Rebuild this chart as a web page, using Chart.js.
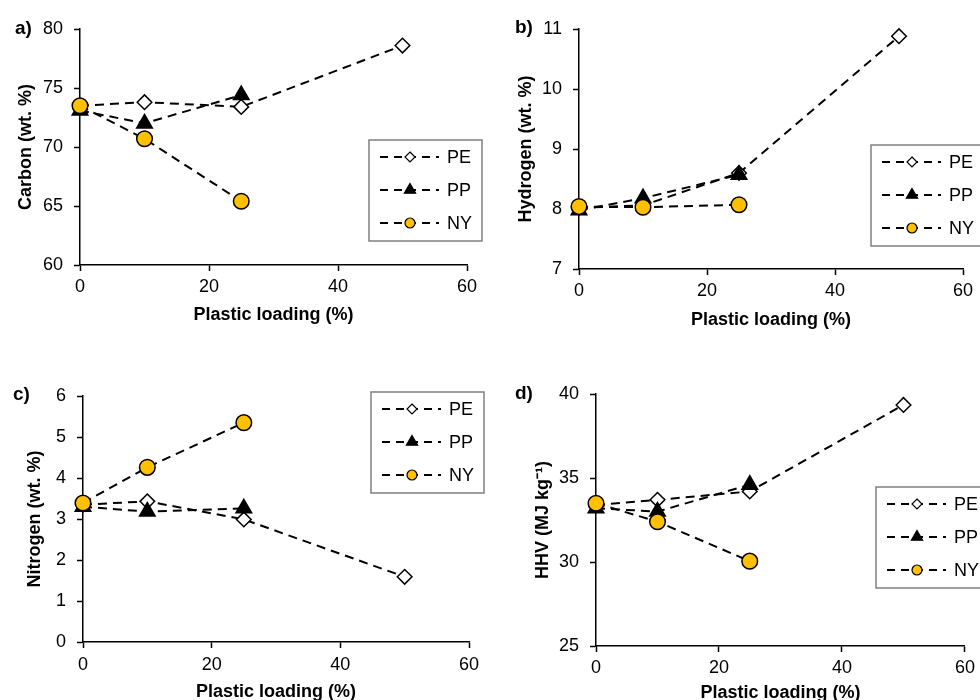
<!DOCTYPE html>
<html>
<head>
<meta charset="utf-8">
<script src="https://cdn.jsdelivr.net/npm/chart.js@4.4.1/dist/chart.umd.min.js"></script>
<style>
  body { margin: 0; background: #fff; width: 980px; height: 700px; overflow: hidden; position: relative;
         font-family: "Liberation Sans", Arial, sans-serif; }
  canvas { position: absolute; }
  .tag { position: absolute; font-weight: bold; font-size: 19px; line-height: 19px; color: #000; }
</style>
</head>
<body>
<canvas id="panelA" width="490" height="350" style="left:0;top:0"></canvas>
<canvas id="panelB" width="490" height="350" style="left:490px;top:0"></canvas>
<canvas id="panelC" width="490" height="350" style="left:0;top:350px"></canvas>
<canvas id="panelD" width="490" height="350" style="left:490px;top:350px"></canvas>
<div class="tag" style="left:15px;top:18px">a)</div>
<div class="tag" style="left:515px;top:17px">b)</div>
<div class="tag" style="left:13px;top:384px">c)</div>
<div class="tag" style="left:515px;top:383px">d)</div>
<script>
// plastic loading (%) for each blend
const loadingPE = [0, 10, 25, 50];
const loadingPP = [0, 10, 25];
const loadingNY = [0, 10, 25];

// a) carbon (wt. %)
const carbonPE = [73.5, 73.8, 73.4, 78.6];
const carbonPP = [73.1, 72.0, 74.4];
const carbonNY = [73.5, 70.7, 65.4];

// b) hydrogen (wt. %)
const hydrogenPE = [8.02, 8.06, 8.6, 10.88];
const hydrogenPP = [7.98, 8.18, 8.57];
const hydrogenNY = [8.04, 8.03, 8.07];

// c) nitrogen (wt. %)
const nitrogenPE = [3.35, 3.43, 2.99, 1.59];
const nitrogenPP = [3.3, 3.18, 3.26];
const nitrogenNY = [3.39, 4.26, 5.35];

// d) HHV (MJ/kg)
const hhvPE = [33.4, 33.7, 34.2, 39.35];
const hhvPP = [33.2, 33.0, 34.6];
const hhvNY = [33.5, 32.4, 30.05];

const seriesNames = ['PE', 'PP', 'NY'];
const xTicks = [0, 20, 40, 60];

Chart.defaults.font.family = '"Liberation Sans", Arial, sans-serif';
Chart.defaults.font.size = 18;
Chart.defaults.color = '#000';

const styles = {
  PE: { pointStyle: 'rectRot', r: 7.3, fill: '#fff', lr: 5 },
  PP: { pointStyle: 'triangle', r: 9, fill: '#000', lr: 6.5 },
  NY: { pointStyle: 'circle', r: 7.8, fill: '#FFC000', lr: 5 }
};

function pts(xs, ys) {
  return xs.map((x, i) => ({ x: x, y: ys[i] }));
}

function marker(ctx, style, x, y, r) {
  ctx.beginPath();
  if (style === 'circle') {
    ctx.arc(x, y, r, 0, Math.PI * 2);
  } else if (style === 'rectRot') {
    ctx.moveTo(x, y - r); ctx.lineTo(x + r, y); ctx.lineTo(x, y + r); ctx.lineTo(x - r, y);
  } else {
    const h = r * Math.sqrt(3) / 2;
    ctx.moveTo(x, y - r); ctx.lineTo(x + h, y + r / 2); ctx.lineTo(x - h, y + r / 2);
  }
  ctx.closePath();
  ctx.fill();
  ctx.stroke();
}

// legend box drawn inside the canvas at a fixed spot
const boxLegend = {
  id: 'boxLegend',
  afterDraw(chart, args, opts) {
    const ctx = chart.ctx;
    const bx = opts.x, by = opts.y;
    ctx.save();
    ctx.fillStyle = '#fff';
    ctx.strokeStyle = '#808080';
    ctx.lineWidth = 1.5;
    ctx.fillRect(bx, by, 113, 101);
    ctx.strokeRect(bx, by, 113, 101);
    const rows = [17, 50, 83];
    seriesNames.forEach((name, i) => {
      const y = by + rows[i];
      const st = styles[name];
      ctx.strokeStyle = '#000';
      ctx.lineWidth = 2;
      ctx.setLineDash([8, 6]);
      ctx.beginPath();
      ctx.moveTo(bx + 11, y);
      ctx.lineTo(bx + 70, y);
      ctx.stroke();
      ctx.setLineDash([]);
      ctx.lineWidth = 1.2;
      ctx.fillStyle = st.fill;
      marker(ctx, st.pointStyle, bx + 41, y, st.lr);
      ctx.fillStyle = '#000';
      ctx.font = '18px "Liberation Sans", Arial, sans-serif';
      ctx.textBaseline = 'middle';
      ctx.textAlign = 'left';
      ctx.fillText(name, bx + 78, y + 1);
    });
    ctx.restore();
  }
};

function dataset(name, xs, ys, order) {
  const st = styles[name];
  return {
    label: name,
    data: pts(xs, ys),
    borderColor: '#000',
    borderWidth: 2,
    borderDash: [9, 6],
    pointStyle: st.pointStyle,
    pointRadius: st.r,
    pointBackgroundColor: st.fill,
    pointBorderColor: '#000',
    pointBorderWidth: 1.5,
    tension: 0,
    clip: false,
    order: order
  };
}

function panel(id, p) {
  new Chart(document.getElementById(id), {
    type: 'line',
    data: {
      datasets: [
        dataset('PE', loadingPE, p.pe, 2),
        dataset('PP', loadingPP, p.pp, 1),
        dataset('NY', loadingNY, p.ny, 0)
      ]
    },
    options: {
      responsive: false,
      animation: false,
      events: [],
      layout: { padding: { left: 0, right: p.right, top: p.top, bottom: 0 } },
      plugins: {
        legend: { display: false },
        tooltip: { enabled: false },
        boxLegend: p.legend
      },
      scales: {
        x: {
          type: 'linear',
          min: 0, max: 60,
          afterBuildTicks: s => { s.ticks = xTicks.map(v => ({ value: v })); },
          afterFit: s => { s.height = p.xHeight; },
          grid: { drawOnChartArea: false, tickLength: 6, color: '#000', tickWidth: 1.5 },
          border: { color: '#000', width: 1.5 },
          ticks: { padding: p.xTickPad, color: '#000', maxRotation: 0 },
          title: { display: true, text: 'Plastic loading (%)', font: { weight: 'bold', size: 18 },
                   padding: { top: 0, bottom: p.xTitlePad } }
        },
        y: {
          min: p.yMin, max: p.yMax,
          afterBuildTicks: s => { s.ticks = p.yTicks.map(v => ({ value: v })); },
          afterFit: s => { s.width = p.yWidth; },
          grid: { drawOnChartArea: false, tickLength: 6, color: '#000', tickWidth: 1.5 },
          border: { color: '#000', width: 1.5 },
          ticks: { padding: 11, color: '#000' },
          title: { display: true, text: p.yTitle, font: { weight: 'bold', size: 18 },
                   padding: { top: p.yTitlePad, bottom: 0 } }
        }
      }
    },
    plugins: [boxLegend]
  });
}

panel('panelA', {
  pe: carbonPE, pp: carbonPP, ny: carbonNY,
  yTitle: 'Carbon (wt. %)', yMin: 60, yMax: 80, yTicks: [60, 65, 70, 75, 80],
  right: 23, top: 29, yWidth: 80, xHeight: 85, yTitlePad: 15, xTitlePad: 24, xTickPad: 5,
  legend: { x: 369, y: 140 }
});
panel('panelB', {
  pe: hydrogenPE, pp: hydrogenPP, ny: hydrogenNY,
  yTitle: 'Hydrogen (wt. %)', yMin: 7, yMax: 11, yTicks: [7, 8, 9, 10, 11],
  right: 17, top: 29, yWidth: 89, xHeight: 81, yTitlePad: 25, xTitlePad: 19, xTickPad: 5,
  legend: { x: 381, y: 145 }
});
panel('panelC', {
  pe: nitrogenPE, pp: nitrogenPP, ny: nitrogenNY,
  yTitle: 'Nitrogen (wt. %)', yMin: 0, yMax: 6, yTicks: [0, 1, 2, 3, 4, 5, 6],
  right: 21, top: 46, yWidth: 83, xHeight: 58, yTitlePad: 24, xTitlePad: -3, xTickPad: 6,
  legend: { x: 371, y: 42 }
});
panel('panelD', {
  pe: hhvPE, pp: hhvPP, ny: hhvNY,
  yTitle: 'HHV (MJ kg⁻¹)', yMin: 25, yMax: 40, yTicks: [25, 30, 35, 40],
  right: 11, top: 44, yWidth: 106, xHeight: 54, yTitlePad: 42, xTitlePad: -4, xTickPad: 5,
  legend: { x: 386, y: 137 }
});
</script>
</body>
</html>
